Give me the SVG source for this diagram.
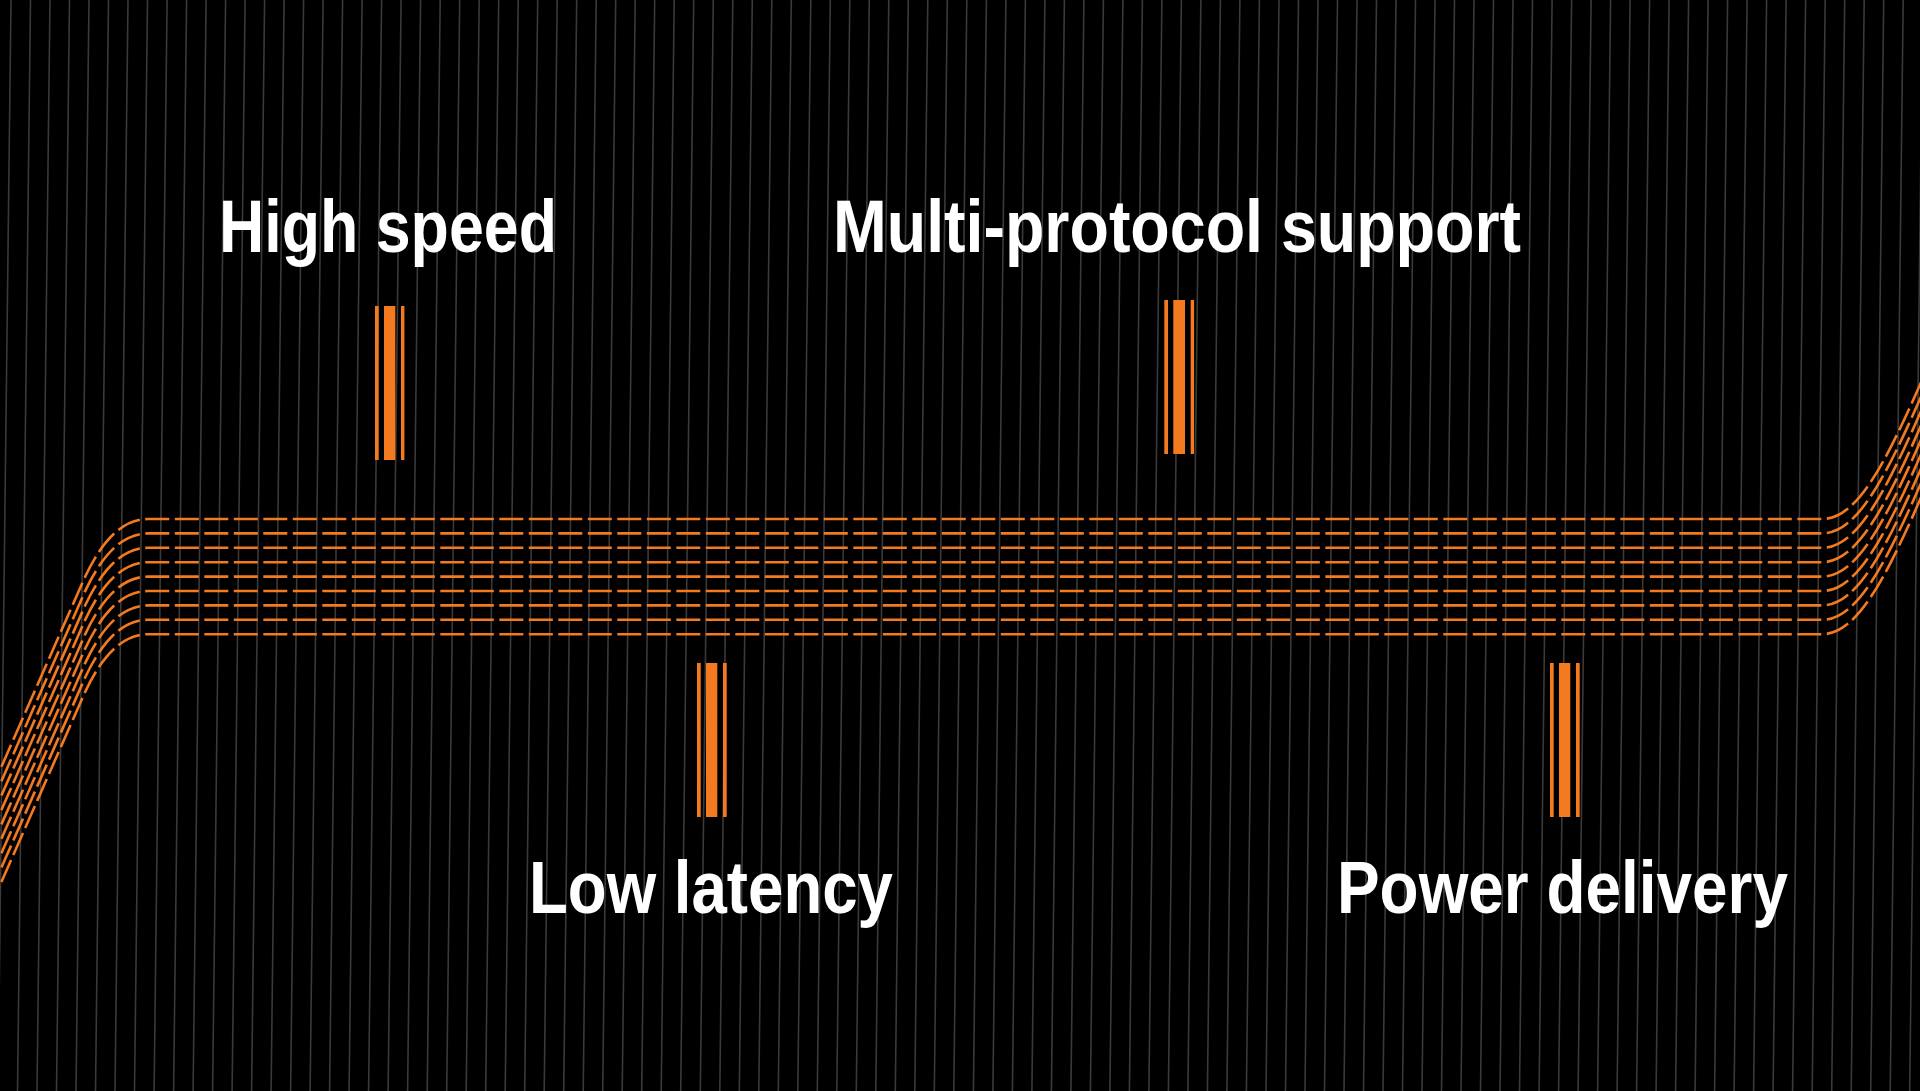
<svg xmlns="http://www.w3.org/2000/svg" xmlns:xlink="http://www.w3.org/1999/xlink" width="1920" height="1091" viewBox="0 0 1920 1091">
  <style>
    .grid { stroke: #3a3a3a; stroke-width: 1.6; fill: none; }
    .wire { fill: none; stroke: #F47A20; stroke-width: 2.6; stroke-dasharray: 24 5.5; }
    .bar { fill: #F47A20; }
    .label { fill: #ffffff; font-family: "Liberation Sans", Arial, sans-serif; font-weight: bold; font-size: 75px; }
  </style>
  <defs>
    <path id="wire" class="wire" d="M-10,794 L0,770 L85,577 C100,545 120,519 148,519 L1822,519 C1860,519 1890,455 1935,350"/>
  </defs>
  <rect width="1920" height="1091" fill="#000000"/>
  <path class="grid" d="M11 0l-13 1091M30.5 0l-13 1091M50 0l-13 1091M69.5 0l-13 1091M89 0l-13 1091M108.5 0l-13 1091M128 0l-13 1091M147.5 0l-13 1091M167.1 0l-13 1091M186.6 0l-13 1091M206.1 0l-13 1091M225.6 0l-13 1091M245.1 0l-13 1091M264.6 0l-13 1091M284.1 0l-13 1091M303.6 0l-13 1091M323.1 0l-13 1091M342.6 0l-13 1091M362.1 0l-13 1091M381.6 0l-13 1091M401.1 0l-13 1091M420.6 0l-13 1091M440.2 0l-13 1091M459.7 0l-13 1091M479.2 0l-13 1091M498.7 0l-13 1091M518.2 0l-13 1091M537.7 0l-13 1091M557.2 0l-13 1091M576.7 0l-13 1091M596.2 0l-13 1091M615.7 0l-13 1091M635.2 0l-13 1091M654.7 0l-13 1091M674.2 0l-13 1091M693.7 0l-13 1091M713.3 0l-13 1091M732.8 0l-13 1091M752.3 0l-13 1091M771.8 0l-13 1091M791.3 0l-13 1091M810.8 0l-13 1091M830.3 0l-13 1091M849.8 0l-13 1091M869.3 0l-13 1091M888.8 0l-13 1091M908.3 0l-13 1091M927.8 0l-13 1091M947.3 0l-13 1091M966.8 0l-13 1091M986.4 0l-13 1091M1005.9 0l-13 1091M1025.4 0l-13 1091M1044.9 0l-13 1091M1064.4 0l-13 1091M1083.9 0l-13 1091M1103.4 0l-13 1091M1122.9 0l-13 1091M1142.4 0l-13 1091M1161.9 0l-13 1091M1181.4 0l-13 1091M1200.9 0l-13 1091M1220.4 0l-13 1091M1239.9 0l-13 1091M1259.4 0l-13 1091M1279 0l-13 1091M1298.5 0l-13 1091M1318 0l-13 1091M1337.5 0l-13 1091M1357 0l-13 1091M1376.5 0l-13 1091M1396 0l-13 1091M1415.5 0l-13 1091M1435 0l-13 1091M1454.5 0l-13 1091M1474 0l-13 1091M1493.5 0l-13 1091M1513 0l-13 1091M1532.5 0l-13 1091M1552.1 0l-13 1091M1571.6 0l-13 1091M1591.1 0l-13 1091M1610.6 0l-13 1091M1630.1 0l-13 1091M1649.6 0l-13 1091M1669.1 0l-13 1091M1688.6 0l-13 1091M1708.1 0l-13 1091M1727.6 0l-13 1091M1747.1 0l-13 1091M1766.6 0l-13 1091M1786.1 0l-13 1091M1805.6 0l-13 1091M1825.2 0l-13 1091M1844.7 0l-13 1091M1864.2 0l-13 1091M1883.7 0l-13 1091M1903.2 0l-13 1091M1922.7 0l-13 1091"/>
  <g id="connectors">
    <use xlink:href="#wire" href="#wire"/>
    <use xlink:href="#wire" href="#wire" transform="translate(0,14.4)"/>
    <use xlink:href="#wire" href="#wire" transform="translate(0,28.8)"/>
    <use xlink:href="#wire" href="#wire" transform="translate(0,43.2)"/>
    <use xlink:href="#wire" href="#wire" transform="translate(0,57.6)"/>
    <use xlink:href="#wire" href="#wire" transform="translate(0,72)"/>
    <use xlink:href="#wire" href="#wire" transform="translate(0,86.4)"/>
    <use xlink:href="#wire" href="#wire" transform="translate(0,100.8)"/>
    <use xlink:href="#wire" href="#wire" transform="translate(0,115.2)"/>
  </g>
  <g id="high-speed">
    <text class="label" x="219" y="252" textLength="338" lengthAdjust="spacingAndGlyphs">High speed</text>
    <rect class="bar" x="375" y="306" width="3.7" height="154"/>
    <rect class="bar" x="384" y="306" width="11.3" height="154"/>
    <rect class="bar" x="401" y="306" width="3.4" height="154"/>
  </g>
  <g id="multi-protocol-support">
    <text class="label" x="833" y="252" textLength="688" lengthAdjust="spacingAndGlyphs">Multi-protocol support</text>
    <rect class="bar" x="1164.3" y="300" width="3.7" height="154"/>
    <rect class="bar" x="1173.3" y="300" width="11.7" height="154"/>
    <rect class="bar" x="1190.7" y="300" width="3.4" height="154"/>
  </g>
  <g id="low-latency">
    <text class="label" x="529" y="913" textLength="364" lengthAdjust="spacingAndGlyphs">Low latency</text>
    <rect class="bar" x="697" y="663" width="3.7" height="154"/>
    <rect class="bar" x="706" y="663" width="11.3" height="154"/>
    <rect class="bar" x="723" y="663" width="3.7" height="154"/>
  </g>
  <g id="power-delivery">
    <text class="label" x="1337" y="913" textLength="451" lengthAdjust="spacingAndGlyphs">Power delivery</text>
    <rect class="bar" x="1550" y="663" width="3.7" height="154"/>
    <rect class="bar" x="1559" y="663" width="11.3" height="154"/>
    <rect class="bar" x="1576" y="663" width="3.7" height="154"/>
  </g>
</svg>
